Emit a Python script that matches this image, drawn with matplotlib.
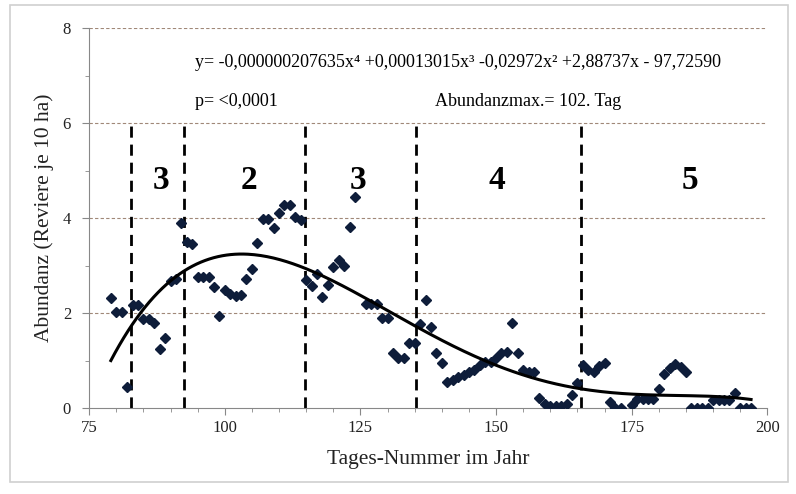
from matplotlib import pyplot as plt
from matplotlib.patches import Rectangle
from matplotlib.ticker import MultipleLocator
import numpy as np

# Observations (day of year, abundance)
days = [79, 80, 81, 82, 83, 84, 85, 86, 87, 88, 89, 90, 91, 92, 93, 94, 95, 96, 97, 98,
        99, 100, 101, 102, 103, 104, 105, 106, 107, 108, 109, 110, 111, 112, 113, 114,
        115, 116, 117, 118, 119, 120, 121, 122, 123, 124, 126, 127, 128, 129, 130, 131,
        132, 133, 134, 135, 136, 137, 138, 139, 140, 141, 142, 143, 144, 145, 146, 147,
        148, 149, 150, 151, 152, 153, 154, 155, 156, 157, 158, 159, 160, 161, 162, 163,
        164, 165, 166, 167, 168, 169, 170, 171, 172, 173, 175, 176, 177, 178, 179, 180,
        181, 182, 183, 184, 185, 186, 187, 188, 189, 190, 191, 192, 193, 194, 195, 196, 197]
abundance = [2.31, 2.03, 2.03, 0.45, 2.17, 2.17, 1.87, 1.87, 1.80, 1.24, 1.48, 2.67, 2.71,
             3.89, 3.50, 3.45, 2.76, 2.76, 2.76, 2.54, 1.94, 2.48, 2.40, 2.36, 2.38, 2.71,
             2.93, 3.48, 3.99, 3.99, 3.80, 4.11, 4.27, 4.27, 4.03, 3.97, 2.69, 2.57, 2.82,
             2.34, 2.59, 2.97, 3.12, 2.99, 3.82, 4.44, 2.19, 2.19, 2.19, 1.90, 1.90, 1.15,
             1.05, 1.05, 1.37, 1.37, 1.77, 2.27, 1.70, 1.15, 0.94, 0.55, 0.60, 0.66, 0.69,
             0.76, 0.81, 0.91, 0.97, 0.97, 1.05, 1.16, 1.19, 1.80, 1.15, 0.81, 0.76, 0.76,
             0.22, 0.08, 0.04, 0.04, 0.04, 0.08, 0.27, 0.52, 0.91, 0.80, 0.76, 0.88, 0.95,
             0.13, 0.00, 0.00, 0.06, 0.20, 0.20, 0.20, 0.20, 0.41, 0.71, 0.84, 0.93, 0.87,
             0.76, 0.00, 0.00, 0.00, 0.00, 0.17, 0.17, 0.17, 0.17, 0.32, 0.00, 0.00, 0.00]

# Phase borders and phase labels
borders = [82.8, 92.4, 114.7, 135.2, 165.7]
phase_x = [88.2, 104.4, 124.6, 150.1, 185.8]
phase_labels = ["3", "2", "3", "4", "5"]

equation = "y= -0,000000207635x\u2074 +0,00013015x\u00b3 -0,02972x\u00b2 +2,88737x - 97,72590"

SERIF = ["Liberation Serif", "DejaVu Serif"]
plt.rcParams['font.family'] = SERIF

fig = plt.figure(figsize=(7.96, 4.94), dpi=100)
fig.patches.append(Rectangle((0.012, 0.025), 0.978, 0.965, transform=fig.transFigure,
                             fill=False, edgecolor="#d0d0d0", lw=1.2))
ax = fig.add_axes([0.112, 0.174, 0.852, 0.769])

# Grid
for g in [2, 4, 6, 8]:
    ax.axhline(g, color="#a08878", lw=0.8, ls=(0, (3, 2)), zorder=0)

# Phase borders
for b in borders:
    ax.plot([b, b], [0, 6], color="black", lw=2, ls=(0, (4, 2.5)), zorder=2)

# Points
ax.plot(days, abundance, ls="none", marker="D", ms=5.5, color="#0e1d3a", zorder=3)

# 4th order trendline
coef = np.polyfit(days, abundance, 4)
xs = np.linspace(min(days), max(days), 300)
ax.plot(xs, np.polyval(coef, xs), color="black", lw=2.2, zorder=4)

for px, lab in zip(phase_x, phase_labels):
    ax.text(px, 4.8, lab, ha="center", va="center", fontsize=24, fontweight="bold")

ax.text(94.6, 7.28, equation, ha="left", va="center", fontsize=13)
ax.text(94.6, 6.46, "p= <0,0001", ha="left", va="center", fontsize=13)
ax.text(138.7, 6.46, "Abundanzmax.= 102. Tag", ha="left", va="center", fontsize=13)

ax.set_xlim(75, 200)
ax.set_ylim(0, 8)
ax.xaxis.set_major_locator(MultipleLocator(25))
ax.xaxis.set_minor_locator(MultipleLocator(5))
ax.yaxis.set_major_locator(MultipleLocator(2))
ax.yaxis.set_minor_locator(MultipleLocator(1))
ax.tick_params(which="both", colors="#888888", labelcolor="#222222", labelsize=12)
ax.tick_params(which="major", length=5)
ax.tick_params(axis="y", pad=8)
ax.tick_params(which="minor", length=3)
for s in ["top", "right"]:
    ax.spines[s].set_visible(False)
for s in ["left", "bottom"]:
    ax.spines[s].set_color("#888888")

ax.set_xlabel("Tages-Nummer im Jahr", fontsize=15.5, color="#222222", labelpad=10)
ax.set_ylabel("Abundanz (Reviere je 10 ha)", fontsize=15.5, color="#222222", labelpad=6)

fig.savefig("out.png", dpi=100)
